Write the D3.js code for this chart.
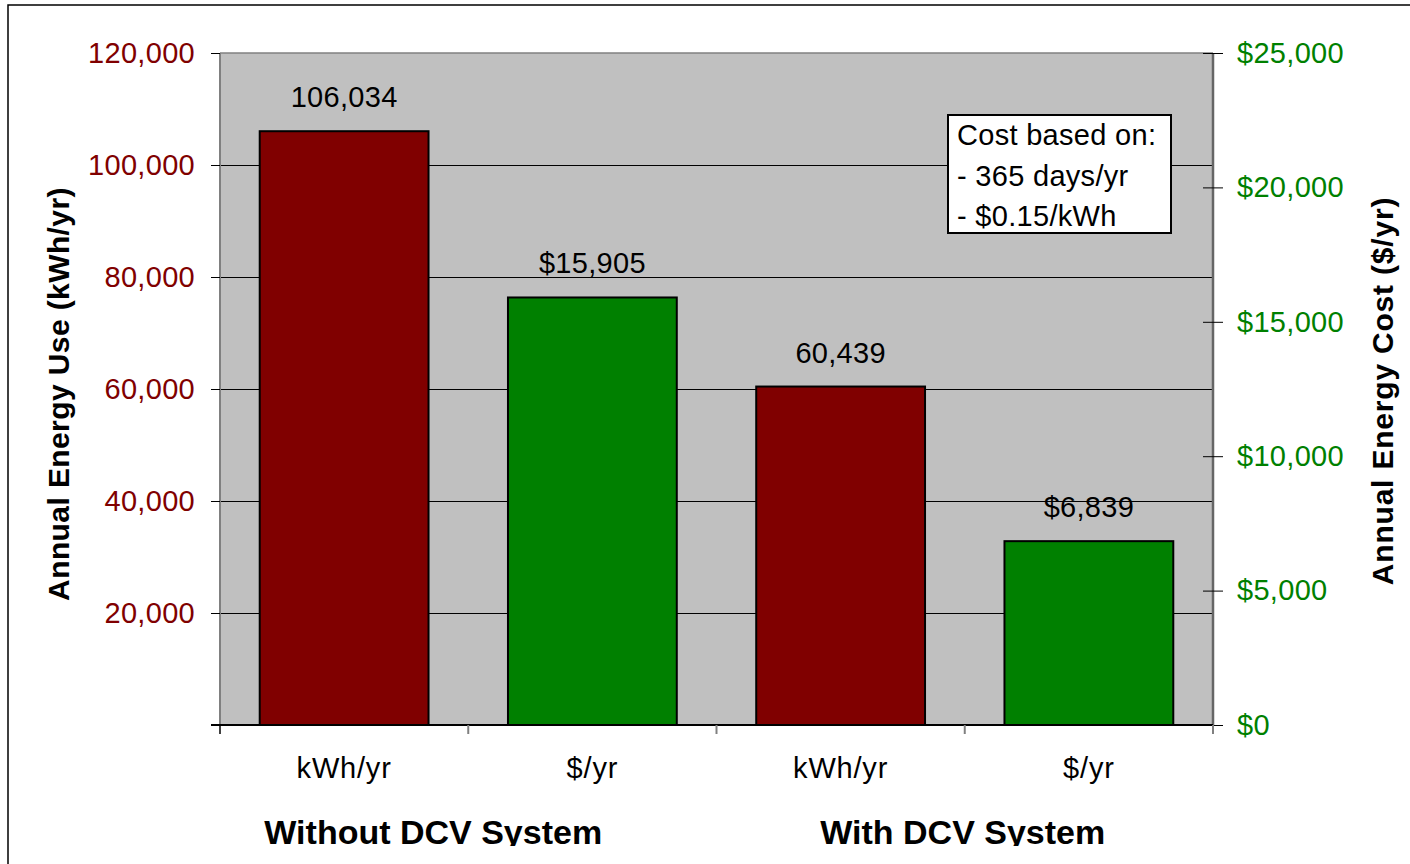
<!DOCTYPE html>
<html>
<head>
<meta charset="utf-8">
<script src="https://cdn.jsdelivr.net/npm/d3@7"></script>
<style>
  body { margin: 0; background: #fff; }
  text { font-family: "Liberation Sans", Arial, sans-serif; }
</style>
</head>
<body>
<div class="chart-wrapper"></div>
<script>
// data
var categories = ["kWh/yr", "$/yr", "kWh/yr", "$/yr"];
var barValues = [106034, 15905, 60439, 6839];
var barAxis = ["left", "right", "left", "right"];
var groups = ["Without DCV System", "With DCV System"];
var leftTicks = [0, 20000, 40000, 60000, 80000, 100000, 120000];
var rightTicks = [0, 5000, 10000, 15000, 20000, 25000];
var noteLines = ["Cost based on:", "- 365 days/yr", "- $0.15/kWh"];
var leftTitle = "Annual Energy Use (kWh/yr)";
var rightTitle = "Annual Energy Cost ($/yr)";

var W = 1410, H = 864;
var plot = { left: 220, right: 1213, top: 53, bottom: 725 };
var darkRed = "#800000", green = "#008000";

var svg = d3.select(".chart-wrapper").append("svg")
  .attr("width", W).attr("height", H);

// outer frame (only top and left edges show)
svg.append("rect").attr("x", 8).attr("y", 5).attr("width", W + 50).attr("height", H + 50)
  .attr("fill", "#fff").attr("stroke", "#000").attr("stroke-width", 1.5);

var x = d3.scaleBand().domain(d3.range(categories.length))
  .range([plot.left, plot.right]).paddingInner(0.32).paddingOuter(0.16);
var yLeft = d3.scaleLinear().domain([0, 120000]).range([plot.bottom, plot.top]);
var yRight = d3.scaleLinear().domain([0, 25000]).range([plot.bottom, plot.top]);
var yFor = function(i) { return barAxis[i] === "left" ? yLeft : yRight; };

// plot background
svg.append("rect").attr("x", plot.left).attr("y", plot.top)
  .attr("width", plot.right - plot.left).attr("height", plot.bottom - plot.top)
  .attr("fill", "#C0C0C0");

// gridlines
svg.append("g").selectAll("line").data(leftTicks.slice(1, -1)).enter().append("line")
  .attr("x1", plot.left).attr("x2", plot.right)
  .attr("y1", function(d) { return Math.round(yLeft(d)) + 0.5; })
  .attr("y2", function(d) { return Math.round(yLeft(d)) + 0.5; })
  .attr("stroke", "#000").attr("stroke-width", 1);

// bars
svg.append("g").selectAll("rect").data(barValues).enter().append("rect")
  .attr("x", function(d, i) { return x(i); })
  .attr("width", x.bandwidth())
  .attr("y", function(d, i) { return yFor(i)(d); })
  .attr("height", function(d, i) { return plot.bottom - yFor(i)(d); })
  .attr("fill", function(d, i) { return barAxis[i] === "left" ? darkRed : green; })
  .attr("stroke", "#000").attr("stroke-width", 2);

// value labels
var fmtLeft = d3.format(","), fmtRight = d3.format("$,");
svg.append("g").selectAll("text").data(barValues).enter().append("text")
  .attr("x", function(d, i) { return x(i) + x.bandwidth() / 2; })
  .attr("y", function(d, i) { return yFor(i)(d) - 24; })
  .attr("text-anchor", "middle").attr("font-size", 29).attr("letter-spacing", 0.3)
  .attr("fill", "#000")
  .text(function(d, i) { return barAxis[i] === "left" ? fmtLeft(d) : fmtRight(d); });

// plot frame
svg.append("line").attr("x1", plot.left).attr("x2", plot.right).attr("y1", plot.top).attr("y2", plot.top)
  .attr("stroke", "#808080").attr("stroke-width", 1.5);
svg.append("line").attr("x1", plot.left).attr("x2", plot.left).attr("y1", plot.top).attr("y2", plot.bottom)
  .attr("stroke", "#808080").attr("stroke-width", 2);
svg.append("line").attr("x1", plot.right).attr("x2", plot.right).attr("y1", plot.top).attr("y2", plot.bottom)
  .attr("stroke", "#666").attr("stroke-width", 2.5);

// left axis
var leftAxis = svg.append("g").attr("transform", "translate(" + plot.left + ",0)")
  .call(d3.axisLeft(yLeft).tickValues(leftTicks).tickSize(9).tickPadding(16)
    .tickFormat(function(d) { return d === 0 ? "" : fmtLeft(d); }));
leftAxis.select(".domain").remove();
leftAxis.selectAll("line").attr("stroke", "#000");
leftAxis.selectAll("text").attr("font-size", 29).attr("letter-spacing", 0.3)
  .attr("fill", darkRed).attr("font-family", "Liberation Sans, Arial, sans-serif");

// right axis
var rightAxis = svg.append("g").attr("transform", "translate(" + plot.right + ",0)")
  .call(d3.axisRight(yRight).tickValues(rightTicks).tickSize(10).tickPadding(14)
    .tickFormat(fmtRight));
rightAxis.select(".domain").remove();
rightAxis.selectAll("line").attr("x1", -10).attr("stroke", "#000");
rightAxis.selectAll("text").attr("font-size", 29).attr("letter-spacing", 0.3)
  .attr("fill", green).attr("font-family", "Liberation Sans, Arial, sans-serif");

// category axis
svg.append("line").attr("x1", plot.left - 9).attr("x2", plot.right).attr("y1", plot.bottom).attr("y2", plot.bottom)
  .attr("stroke", "#000").attr("stroke-width", 2);
var bounds = d3.range(categories.length + 1).map(function(i) { return plot.left + i * x.step(); });
svg.append("g").selectAll("line").data(bounds).enter().append("line")
  .attr("x1", function(d) { return d; }).attr("x2", function(d) { return d; })
  .attr("y1", plot.bottom).attr("y2", plot.bottom + 9)
  .attr("stroke", function(d, i) { return i === 0 ? "#000" : "#808080"; })
  .attr("stroke-width", function(d, i) { return i === 0 ? 1.5 : 2; });
svg.append("g").selectAll("text").data(categories).enter().append("text")
  .attr("x", function(d, i) { return x(i) + x.bandwidth() / 2; })
  .attr("y", 778).attr("text-anchor", "middle")
  .attr("font-size", 29).attr("letter-spacing", 0.8).attr("fill", "#000")
  .text(function(d) { return d; });

// group labels (clipped at the bottom like the picture)
svg.append("clipPath").attr("id", "bottom-clip").append("rect")
  .attr("x", 0).attr("y", 0).attr("width", W).attr("height", 846);
var groupShift = [-35, -2];
svg.append("g").attr("clip-path", "url(#bottom-clip)")
  .selectAll("text").data(groups).enter().append("text")
  .attr("x", function(d, i) { return plot.left + (2 * i + 1) * x.step() + groupShift[i]; })
  .attr("y", 844).attr("text-anchor", "middle")
  .attr("font-size", 34).attr("font-weight", "bold").attr("fill", "#000")
  .text(function(d) { return d; });

// axis titles
svg.append("text").attr("transform", "translate(69,394) rotate(-90)")
  .attr("text-anchor", "middle").attr("font-size", 30).attr("font-weight", "bold")
  .attr("letter-spacing", 0.4).text(leftTitle);
svg.append("text").attr("transform", "translate(1393,391) rotate(-90)")
  .attr("text-anchor", "middle").attr("font-size", 30).attr("font-weight", "bold")
  .attr("letter-spacing", 0.8).text(rightTitle);

// note box
var note = svg.append("g");
note.append("rect").attr("x", 948).attr("y", 115).attr("width", 223).attr("height", 118)
  .attr("fill", "#fff").attr("stroke", "#000").attr("stroke-width", 2);
note.selectAll("text").data(noteLines).enter().append("text")
  .attr("x", 957).attr("y", function(d, i) { return 145 + i * 40.5; })
  .attr("font-size", 29).attr("letter-spacing", 0.3).attr("fill", "#000")
  .text(function(d) { return d; });
</script>
</body>
</html>
